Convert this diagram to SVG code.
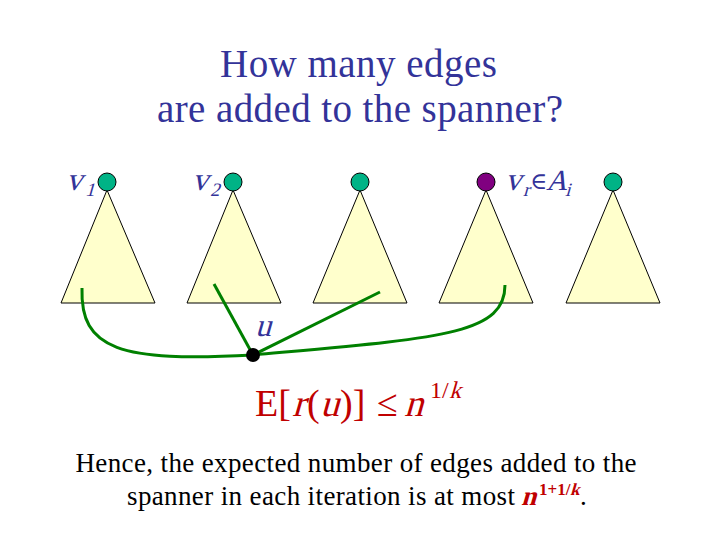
<svg xmlns="http://www.w3.org/2000/svg" width="720" height="540" viewBox="0 0 720 540">
<style>
.tri{fill:#ffffcc;stroke:#000;stroke-width:1}
.root{fill:#00b386;stroke:#000;stroke-width:1}
.rootA{fill:#800080;stroke:#000;stroke-width:1}
.edge{fill:none;stroke:#008000;stroke-width:3}
text{font-family:"Liberation Serif","DejaVu Serif",serif}
.title{font-size:39px;fill:#333399;text-anchor:middle}
.lbl{font-size:32px;fill:#333399}
.sub{font-size:19px;fill:#333399}
.math{font-size:38px;fill:#c00000}
.msup{font-size:24px;fill:#c00000}
.body{font-size:27px;fill:#000}
.red{fill:#c00000;font-weight:bold}
.bsup{font-size:17px;fill:#c00000;font-weight:bold}
</style>
<rect width="720" height="540" fill="#fff"/>
<g id="title">
<text class="title" x="358.5" y="77" textLength="277" lengthAdjust="spacing">How many edges</text>
<text class="title" x="360" y="122" textLength="406" lengthAdjust="spacing">are added to the spanner?</text>
</g>
<g id="tree1"><polygon class="tri" points="107,190 61,303 155,303"/><circle class="root" cx="107" cy="182" r="9"/>
<text class="lbl" transform="translate(66,190) skewX(-16)">v</text><text class="sub" transform="translate(85,196) skewX(-16)">1</text></g>
<g id="tree2"><polygon class="tri" points="233,190 187,303 281,303"/><circle class="root" cx="233" cy="182" r="9"/>
<text class="lbl" transform="translate(192,190) skewX(-16)">v</text><text class="sub" transform="translate(210,196) skewX(-16)">2</text></g>
<g id="tree3"><polygon class="tri" points="360,190 313,303 407,303"/><circle class="root" cx="360" cy="182" r="9"/></g>
<g id="tree4"><polygon class="tri" points="486,190 439,303 533,303"/><circle class="rootA" cx="486" cy="182" r="9"/>
<text class="lbl" transform="translate(505,190) skewX(-16)">v</text><text class="sub" transform="translate(523,196) skewX(-16)">r</text><text class="sub" x="530" y="189" style="font-size:23px">∈</text><text class="lbl" transform="translate(546,190) skewX(-16)" style="font-size:29px">A</text><text class="sub" transform="translate(565,196) skewX(-16)">i</text></g>
<g id="tree5"><polygon class="tri" points="613,190 566,303 660,303"/><circle class="root" cx="613" cy="182" r="9"/></g>
<g id="edges">
<path class="edge" d="M82,288 C80,350 120,362 253,355"/>
<path class="edge" d="M214,284 L253,355"/>
<path class="edge" d="M380,292 L253,355"/>
<path class="edge" d="M505,285 C505,335 440,338 253,355"/>
</g>
<g id="u"><circle cx="253" cy="355" r="7" fill="#000"/><text class="lbl" transform="translate(255,336) skewX(-16)">u</text></g>
<g id="formula">
<text class="math" x="255" y="416">E[</text>
<text class="math" transform="translate(292,416) skewX(-16)">r</text>
<text class="math" x="307" y="416">(</text>
<text class="math" transform="translate(320,416) skewX(-16)">u</text>
<text class="math" x="340" y="416">)]</text>
<text class="math" x="377" y="416">≤</text>
<text class="math" transform="translate(404,416) skewX(-16)">n</text>
<text class="msup" x="430" y="398">1/</text>
<text class="msup" transform="translate(449,398) skewX(-16)">k</text>
</g>
<g id="text">
<text class="body" x="356" y="472" text-anchor="middle" textLength="561" lengthAdjust="spacing">Hence, the expected number of edges added to the</text>
<text class="body" x="127" y="505" textLength="388" lengthAdjust="spacing">spanner in each iteration is at most</text>
<text class="body red" transform="translate(521,505) skewX(-16)">n</text>
<text class="bsup" x="539" y="495">1+1/</text>
<text class="bsup" transform="translate(570,495) skewX(-16)">k</text>
<text class="body" x="580" y="505">.</text>
</g>
</svg>
